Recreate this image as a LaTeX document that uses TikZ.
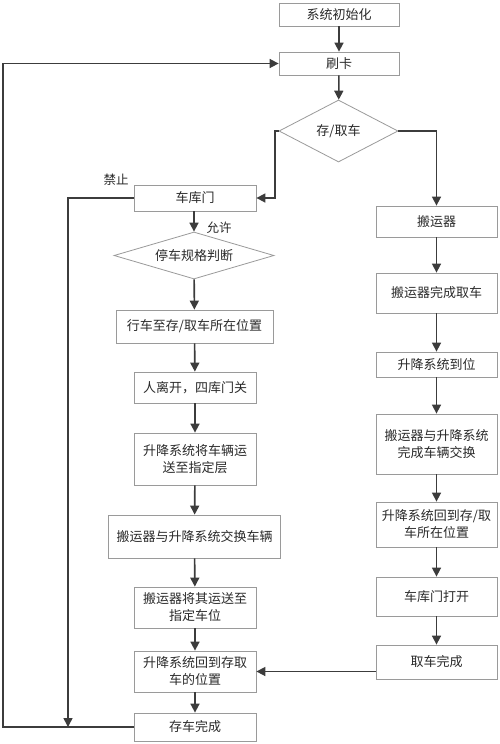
\documentclass[tikz,border=0pt]{standalone}
\usepackage{fontspec}
\setmainfont{Noto Sans CJK SC}
\usetikzlibrary{shapes.geometric,arrows.meta}
\definecolor{boxgray}{HTML}{9A9A9A}
\definecolor{linec}{HTML}{3C3C3C}
\definecolor{txtc}{HTML}{2A2A2A}
\begin{document}
\begin{tikzpicture}[x=1pt,y=-1pt,
  every node/.style={font=\fontsize{13}{17}\selectfont, text=txtc},
  box/.style={draw=boxgray, line width=0.8pt, rectangle, inner sep=2pt, align=center},
  dia/.style={draw=boxgray, line width=0.8pt, diamond, inner sep=0pt, align=center},
  arr/.style={draw=linec, line width=1.6pt, -{Triangle[length=9pt,width=9pt]}},
  lbl/.style={font=\fontsize{12.5}{15}\selectfont}
]
\useasboundingbox[fill=white] (0,0) rectangle (500,744);

% top
\node[box, minimum width=120pt, minimum height=23pt] (init) at (339,14.5) {系统初始化};
\node[box, minimum width=120pt, minimum height=23pt] (card) at (339,63.5) {刷卡};
\node[dia, minimum width=119pt, minimum height=62pt, aspect=1.92] (sel) at (338.5,131) {存/取车};

% left column
\node[box, minimum width=122pt, minimum height=26pt] (gate) at (195,198) {车库门};
\node[dia, minimum width=160pt, minimum height=47pt, aspect=3.4] (spec) at (194,255.5) {停车规格判断};
\node[box, minimum width=157pt, minimum height=33pt] (drive) at (194.5,326.5) {行车至存/取车所在位置};
\node[box, minimum width=122pt, minimum height=31pt] (leave) at (195,387.5) {人离开，四库门关};
\node[box, minimum width=122pt, minimum height=52pt] (lift) at (195,459) {升降系统将车辆运\\送至指定层};
\node[box, minimum width=172pt, minimum height=43pt] (swap) at (194.5,536.5) {搬运器与升降系统交换车辆};
\node[box, minimum width=122pt, minimum height=41pt] (carry) at (195,607.5) {搬运器将其运送至\\指定车位};
\node[box, minimum width=122pt, minimum height=41pt] (ret) at (195,671.5) {升降系统回到存取\\车的位置};
\node[box, minimum width=122pt, minimum height=28pt] (stored) at (195,727) {存车完成};

% right column
\node[box, minimum width=121pt, minimum height=31pt] (carrier) at (436.5,221.5) {搬运器};
\node[box, minimum width=121pt, minimum height=40pt] (fetch) at (436.5,293) {搬运器完成取车};
\node[box, minimum width=121pt, minimum height=25pt] (arrive) at (436.5,364.5) {升降系统到位};
\node[box, minimum width=121pt, minimum height=60pt] (xchg) at (436.5,444) {搬运器与升降系统\\完成车辆交换};
\node[box, minimum width=121pt, minimum height=45pt] (back) at (436.5,524.5) {升降系统回到存/取\\车所在位置};
\node[box, minimum width=121pt, minimum height=39pt] (open) at (436.5,596.5) {车库门打开};
\node[box, minimum width=121pt, minimum height=34pt] (done) at (436.5,662) {取车完成};

% labels
\node[lbl] (forbid) at (116,180) {禁止};
\node[lbl] (allow) at (219,228) {允许};

% connectors
\coordinate (loopL) at (3,727);
\coordinate (join) at (68,727);
\coordinate (selL) at (275,131);

\draw[arr] (init) -- (card);
\draw[arr] (card) -- (sel);
\draw[arr] (sel.west) -- (selL) |- (gate.east);
\draw[arr] (sel.east) -| (carrier.north);
\draw[arr] (gate.south -| spec.north) -- (spec.north);
\draw[arr] (spec) -- (drive);
\draw[arr] (drive) -- (leave);
\draw[arr] (leave) -- (lift);
\draw[arr] (lift) -- (swap);
\draw[arr] (swap) -- (carry);
\draw[arr] (carry) -- (ret);
\draw[arr] (ret) -- (stored);

\draw[arr] (carrier) -- (fetch);
\draw[arr] (fetch) -- (arrive);
\draw[arr] (arrive) -- (xchg);
\draw[arr] (xchg) -- (back);
\draw[arr] (back) -- (open);
\draw[arr] (open) -- (done);
\draw[arr] (done.west |- ret.east) -- (ret.east);

\draw[arr] (stored.west) -- (loopL) |- (card.west);
\draw[arr] (gate.west) -| (join);
\end{tikzpicture}
\end{document}
